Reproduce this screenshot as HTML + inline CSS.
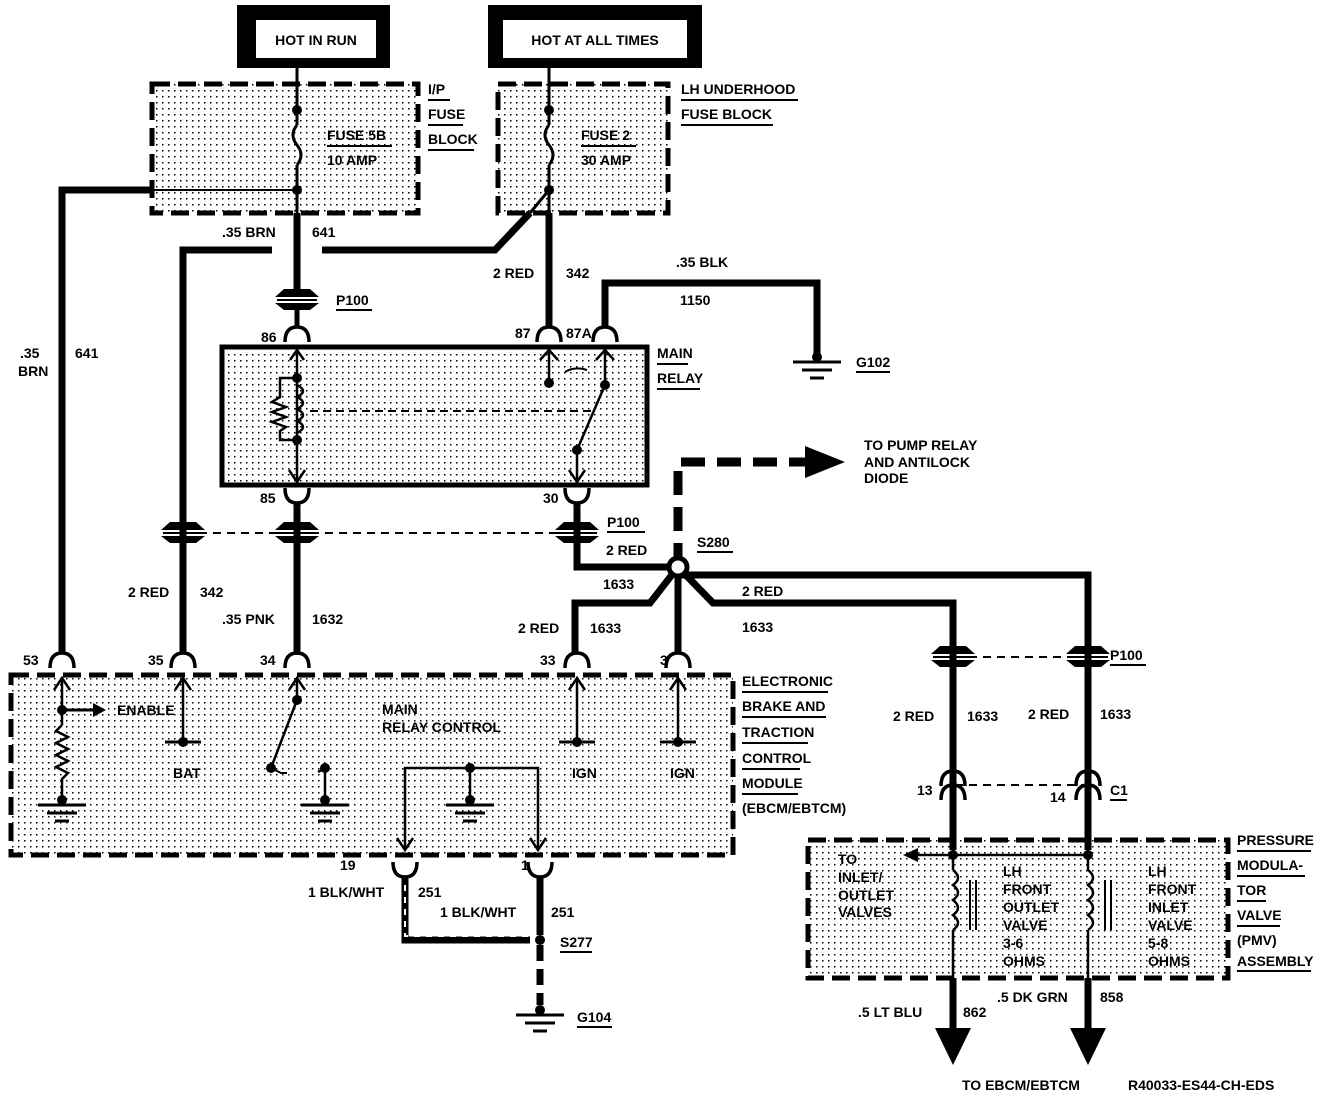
<!DOCTYPE html>
<html><head><meta charset="utf-8"><style>
html,body{margin:0;padding:0;background:#fff}
svg{display:block}
text{font-family:"Liberation Sans",sans-serif;font-weight:bold;font-size:14px;fill:#000}
</style></head><body>
<svg width="1344" height="1098" viewBox="0 0 1344 1098" xmlns="http://www.w3.org/2000/svg">
<defs>
<pattern id="d" width="6" height="6" patternUnits="userSpaceOnUse"><rect width="1.5" height="1.5" fill="#000"/></pattern>
<g id="p100"><path d="M-13,-11 L13,-11 L22,-3 L-22,-3Z" fill="#000"/><path d="M-22,3 L22,3 L13,10 L-13,10Z" fill="#000"/><line x1="-20" y1="0" x2="20" y2="0" stroke="#000" stroke-width="2"/></g>
<g id="cap"><path d="M-12,8 Q-12,-7 0,-7 Q12,-7 12,8" stroke="#000" stroke-width="3.5" fill="none"/></g>
<g id="cup"><path d="M-12,-8 Q-12,7 0,7 Q12,7 12,-8" stroke="#000" stroke-width="3.5" fill="none"/></g>
<g id="gnd"><line x1="-24" y1="0" x2="24" y2="0" stroke="#000" stroke-width="3"/><line x1="-15" y1="8" x2="15" y2="8" stroke="#000" stroke-width="3"/><line x1="-7" y1="16" x2="7" y2="16" stroke="#000" stroke-width="3"/></g>
</defs>

<rect x="237" y="5" width="153" height="63" fill="#000"/><rect x="256" y="20" width="120" height="38" fill="#fff"/>
<text x="316" y="45" text-anchor="middle" font-size="13">HOT IN RUN</text>
<rect x="488" y="5" width="214" height="63" fill="#000"/><rect x="503" y="20" width="184" height="38" fill="#fff"/>
<text x="595" y="45" text-anchor="middle" font-size="13">HOT AT ALL TIMES</text>

<rect x="152" y="84" width="266" height="129" fill="url(#d)" stroke="#000" stroke-width="5" stroke-dasharray="18,8"/>
<rect x="498" y="84" width="170" height="129" fill="url(#d)" stroke="#000" stroke-width="5" stroke-dasharray="18,8"/>
<text x="327" y="140">FUSE 5B</text><line x1="327" y1="146" x2="392" y2="146" stroke="#000" stroke-width="2"/><text x="327" y="165">10 AMP</text>
<text x="581" y="140">FUSE 2</text><line x1="581" y1="146" x2="636" y2="146" stroke="#000" stroke-width="2"/><text x="581" y="165">30 AMP</text>
<text x="428" y="94">I/P</text><line x1="428" y1="100" x2="450" y2="100" stroke="#000" stroke-width="2"/>
<text x="428" y="119">FUSE</text><line x1="428" y1="125" x2="463" y2="125" stroke="#000" stroke-width="2"/>
<text x="428" y="144">BLOCK</text><line x1="428" y1="150" x2="474" y2="150" stroke="#000" stroke-width="2"/>
<text x="681" y="94">LH UNDERHOOD</text><line x1="681" y1="100" x2="798" y2="100" stroke="#000" stroke-width="2"/>
<text x="681" y="119">FUSE BLOCK</text><line x1="681" y1="125" x2="773" y2="125" stroke="#000" stroke-width="2"/>

<g stroke="#000" fill="none">
<line x1="297" y1="68" x2="297" y2="125" stroke-width="3"/>
<path d="M297,125 q-8,10 0,20 q8,10 0,20" stroke-width="3"/>
<line x1="297" y1="165" x2="297" y2="213" stroke-width="3"/>
<line x1="297" y1="213" x2="297" y2="290" stroke-width="7"/>
<line x1="152" y1="190" x2="297" y2="190" stroke-width="2"/>
<path d="M152,190 H62 V652" stroke-width="7"/>
<line x1="549" y1="68" x2="549" y2="125" stroke-width="3"/>
<path d="M549,125 q-8,10 0,20 q8,10 0,20" stroke-width="3"/>
<line x1="549" y1="165" x2="549" y2="213" stroke-width="3"/>
<line x1="549" y1="190" x2="530" y2="213" stroke-width="3"/>
<path d="M530,213 L495,250 H322" stroke-width="7"/>
<path d="M272,250 H183 V652" stroke-width="7"/>
<line x1="549" y1="213" x2="549" y2="326" stroke-width="7"/>
<path d="M605,326 V283 H817 V355" stroke-width="7"/>
<line x1="297" y1="310" x2="297" y2="328" stroke-width="5"/>
<rect x="222" y="347" width="425" height="138" fill="url(#d)" stroke-width="5"/>
<line x1="297" y1="350" x2="297" y2="480" stroke-width="2.5"/>
<path d="M297,378 H280 V397 l-8,5 l14,5 l-14,5 l14,5 l-14,5 l14,5 l-6,4 V440 H297" stroke-width="2.5"/>
<path d="M297,385 q12,6 0,12 q12,6 0,12 q12,6 0,12 q12,6 0,12" stroke-width="2.5"/>
<line x1="310" y1="411" x2="592" y2="411" stroke-width="2" stroke-dasharray="8,5"/>
<line x1="549" y1="350" x2="549" y2="383" stroke-width="2.5"/>
<line x1="605" y1="350" x2="605" y2="385" stroke-width="2.5"/>
<line x1="605" y1="385" x2="577" y2="450" stroke-width="2.5"/>
<line x1="577" y1="450" x2="577" y2="482" stroke-width="2.5"/>
<path d="M565,372 q10,-6 22,-2" stroke-width="2"/>
<path d="M290,360 l7,-10 l7,10 M540,360 l9,-10 l9,10 M596,360 l9,-10 l9,10 M289,470 l8,12 l8,-12 M569,470 l8,12 l8,-12" stroke-width="2.5"/>
<line x1="297" y1="503" x2="297" y2="655" stroke-width="7"/>
<path d="M577,503 V567 H678" stroke-width="7"/>
<line x1="185" y1="533" x2="585" y2="533" stroke-width="2" stroke-dasharray="8,6"/>
<path d="M678,567 V462 H805" stroke-width="9" stroke-dasharray="24,12"/>
<path d="M678,567 L650,603 H575 V652" stroke-width="7"/>
<line x1="678" y1="567" x2="678" y2="652" stroke-width="7"/>
<path d="M678,567 L713,603 H953 V850" stroke-width="7"/>
<path d="M678,575 H1088 V850" stroke-width="7"/>
<line x1="955" y1="657" x2="1088" y2="657" stroke-width="2" stroke-dasharray="8,6"/>
<line x1="955" y1="785" x2="1088" y2="785" stroke-width="2" stroke-dasharray="8,6"/>
<rect x="11" y="675" width="722" height="180" fill="url(#d)" stroke-width="5" stroke-dasharray="18,8"/>
<line x1="62" y1="678" x2="62" y2="725" stroke-width="2.5"/>
<path d="M62,725 l-6,6 l12,6 l-12,6 l12,6 l-12,6 l12,6 l-12,6 l12,6 l-6,6 V800" stroke-width="2.5"/>
<line x1="62" y1="710" x2="95" y2="710" stroke-width="3"/>
<line x1="183" y1="678" x2="183" y2="742" stroke-width="2.5"/><line x1="165" y1="742" x2="201" y2="742" stroke-width="3"/>
<line x1="297" y1="678" x2="297" y2="700" stroke-width="2.5"/><line x1="297" y1="700" x2="271" y2="768" stroke-width="2.5"/>
<path d="M271,768 l10,5 h6" stroke-width="2"/>
<path d="M325,768 V800 M318,772 l7,-4" stroke-width="2.5"/>
<line x1="577" y1="678" x2="577" y2="742" stroke-width="2.5"/><line x1="559" y1="742" x2="595" y2="742" stroke-width="3"/>
<line x1="678" y1="678" x2="678" y2="742" stroke-width="2.5"/><line x1="660" y1="742" x2="696" y2="742" stroke-width="3"/>
<path d="M405,850 V768 H538 V850" stroke-width="2.5"/>
<line x1="470" y1="768" x2="470" y2="800" stroke-width="2.5"/>
<path d="M54,690 l8,-12 l8,12 M175,690 l8,-12 l8,12 M289,690 l8,-12 l8,12 M569,690 l8,-12 l8,12 M670,690 l8,-12 l8,12 M397,838 l8,12 l8,-12 M530,838 l8,12 l8,-12" stroke-width="2.5"/>
<path d="M405,878 V940 H530" stroke-width="7"/>
<path d="M405,885 V936 H528" stroke="#fff" stroke-width="2" stroke-dasharray="6,6"/>
<line x1="540" y1="878" x2="540" y2="935" stroke-width="7"/>
<line x1="540" y1="945" x2="540" y2="1005" stroke-width="7" stroke-dasharray="16,8"/>
<rect x="808" y="840" width="420" height="138" fill="url(#d)" stroke-width="5" stroke-dasharray="18,8"/>
<line x1="915" y1="855" x2="1088" y2="855" stroke-width="2.5"/>
<line x1="953" y1="850" x2="953" y2="870" stroke-width="2.5"/>
<path d="M953,870 q10,8 0,15 q10,8 0,15 q10,8 0,15 q10,8 0,15" stroke-width="2.5"/>
<line x1="953" y1="930" x2="953" y2="1030" stroke-width="2.5"/>
<line x1="1088" y1="850" x2="1088" y2="870" stroke-width="2.5"/>
<path d="M1088,870 q10,8 0,15 q10,8 0,15 q10,8 0,15 q10,8 0,15" stroke-width="2.5"/>
<line x1="1088" y1="930" x2="1088" y2="1030" stroke-width="2.5"/>
<path d="M970,880 V930 M976,880 V930 M1105,880 V930 M1111,880 V930" stroke-width="2"/>
<line x1="953" y1="978" x2="953" y2="1030" stroke-width="7"/>
<line x1="1088" y1="978" x2="1088" y2="1030" stroke-width="7"/>
</g>
<path d="M805,446 L845,462 L805,478Z" fill="#000"/>
<path d="M93,703 L106,710 L93,717Z" fill="#000"/>
<path d="M903,855 L918,848 L918,862Z" fill="#000"/>
<path d="M935,1028 L971,1028 L953,1065Z" fill="#000"/>
<path d="M1070,1028 L1106,1028 L1088,1065Z" fill="#000"/>
<g fill="#000">
<circle cx="297" cy="110" r="5"/><circle cx="297" cy="190" r="5"/>
<circle cx="549" cy="110" r="5"/><circle cx="549" cy="190" r="5"/>
<circle cx="297" cy="378" r="5"/><circle cx="297" cy="440" r="5"/>
<circle cx="549" cy="383" r="5"/><circle cx="605" cy="385" r="5"/><circle cx="577" cy="450" r="5"/>
<circle cx="62" cy="710" r="5"/><circle cx="62" cy="800" r="5"/><circle cx="183" cy="742" r="5"/><circle cx="297" cy="700" r="5"/>
<circle cx="271" cy="768" r="5"/><circle cx="325" cy="768" r="5"/><circle cx="325" cy="800" r="5"/>
<circle cx="470" cy="768" r="5"/><circle cx="470" cy="800" r="5"/>
<circle cx="577" cy="742" r="5"/><circle cx="678" cy="742" r="5"/>
<circle cx="953" cy="855" r="5"/><circle cx="1088" cy="855" r="5"/>
<circle cx="540" cy="940" r="5"/><circle cx="540" cy="1010" r="5"/><circle cx="817" cy="357" r="5"/>
</g>
<circle cx="678" cy="567" r="9" fill="#fff" stroke="#000" stroke-width="5"/>
<use href="#gnd" x="817" y="362"/><use href="#gnd" x="62" y="805"/><use href="#gnd" x="325" y="805"/><use href="#gnd" x="470" y="805"/><use href="#gnd" x="540" y="1015"/>
<use href="#p100" x="297" y="300"/><use href="#p100" x="183" y="533"/><use href="#p100" x="297" y="533"/><use href="#p100" x="577" y="533"/>
<use href="#p100" x="953" y="657"/><use href="#p100" x="1088" y="657"/>
<use href="#cap" x="297" y="334"/><use href="#cap" x="549" y="334"/><use href="#cap" x="605" y="334"/>
<use href="#cup" x="297" y="496"/><use href="#cup" x="577" y="496"/>
<use href="#cap" x="62" y="660"/><use href="#cap" x="183" y="660"/><use href="#cap" x="297" y="660"/><use href="#cap" x="577" y="660"/><use href="#cap" x="678" y="660"/>
<use href="#cup" x="405" y="870"/><use href="#cup" x="540" y="870"/>
<use href="#cap" x="953" y="778"/><use href="#cap" x="953" y="792"/><use href="#cap" x="1088" y="778"/><use href="#cap" x="1088" y="792"/>
<text x="222" y="237">.35 BRN</text><text x="312" y="237">641</text>
<text x="336" y="305">P100</text><line x1="336" y1="310" x2="372" y2="310" stroke="#000" stroke-width="2"/>
<text x="493" y="278">2 RED</text><text x="566" y="278">342</text>
<text x="676" y="267">.35 BLK</text><text x="680" y="305">1150</text>
<text x="261" y="342">86</text><text x="515" y="338">87</text><text x="566" y="338">87A</text>
<text x="657" y="358" font-size="13">MAIN</text><line x1="657" y1="364" x2="688" y2="364" stroke="#000" stroke-width="2"/>
<text x="657" y="383" font-size="13">RELAY</text><line x1="657" y1="389" x2="700" y2="389" stroke="#000" stroke-width="2"/>
<text x="856" y="367">G102</text><line x1="856" y1="372" x2="890" y2="372" stroke="#000" stroke-width="2"/>
<text x="20" y="358">.35</text><text x="18" y="376">BRN</text><text x="75" y="358">641</text>
<text x="260" y="503">85</text><text x="543" y="503">30</text>
<text x="607" y="527">P100</text><line x1="607" y1="532" x2="645" y2="532" stroke="#000" stroke-width="2"/>
<text x="606" y="555">2 RED</text><text x="697" y="547">S280</text><line x1="697" y1="552" x2="733" y2="552" stroke="#000" stroke-width="2"/>
<text x="864" y="450" font-size="13">TO PUMP RELAY</text><text x="864" y="467" font-size="13">AND ANTILOCK</text><text x="864" y="483" font-size="13">DIODE</text>
<text x="128" y="597">2 RED</text><text x="200" y="597">342</text>
<text x="222" y="624">.35 PNK</text><text x="312" y="624">1632</text>
<text x="603" y="589">1633</text><text x="518" y="633">2 RED</text><text x="590" y="633">1633</text>
<text x="742" y="596">2 RED</text><text x="742" y="632">1633</text>
<text x="23" y="665">53</text><text x="148" y="665">35</text><text x="260" y="665">34</text><text x="540" y="665">33</text><text x="660" y="665">3</text>
<text x="117" y="715" font-size="13">ENABLE</text>
<text x="382" y="714" font-size="13">MAIN</text><text x="382" y="732" font-size="13">RELAY CONTROL</text>
<text x="173" y="778" font-size="13">BAT</text><text x="572" y="778" font-size="13">IGN</text><text x="670" y="778" font-size="13">IGN</text>
<text x="742" y="686" font-size="13">ELECTRONIC</text><line x1="742" y1="692" x2="828" y2="692" stroke="#000" stroke-width="2"/>
<text x="742" y="711" font-size="13">BRAKE AND</text><line x1="742" y1="717" x2="826" y2="717" stroke="#000" stroke-width="2"/>
<text x="742" y="737" font-size="13">TRACTION</text><line x1="742" y1="743" x2="808" y2="743" stroke="#000" stroke-width="2"/>
<text x="742" y="763" font-size="13">CONTROL</text><line x1="742" y1="769" x2="800" y2="769" stroke="#000" stroke-width="2"/>
<text x="742" y="788" font-size="13">MODULE</text><line x1="742" y1="794" x2="798" y2="794" stroke="#000" stroke-width="2"/>
<text x="742" y="813" font-size="13">(EBCM/EBTCM)</text>
<text x="1110" y="660">P100</text><line x1="1110" y1="665" x2="1146" y2="665" stroke="#000" stroke-width="2"/>
<text x="893" y="721">2 RED</text><text x="967" y="721">1633</text><text x="1028" y="719">2 RED</text><text x="1100" y="719">1633</text>
<text x="917" y="795">13</text><text x="1050" y="802">14</text>
<text x="1110" y="795">C1</text><line x1="1110" y1="800" x2="1127" y2="800" stroke="#000" stroke-width="2"/>
<text x="340" y="870">19</text><text x="521" y="870">1</text>
<text x="308" y="897">1 BLK/WHT</text><text x="418" y="897">251</text>
<text x="440" y="917">1 BLK/WHT</text><text x="551" y="917">251</text>
<text x="560" y="947">S277</text><line x1="560" y1="952" x2="592" y2="952" stroke="#000" stroke-width="2"/>
<text x="577" y="1022">G104</text><line x1="577" y1="1027" x2="612" y2="1027" stroke="#000" stroke-width="2"/>
<text x="838" y="864" font-size="13">TO</text><text x="838" y="882" font-size="13">INLET/</text><text x="838" y="900" font-size="13">OUTLET</text><text x="838" y="917" font-size="13">VALVES</text>
<text x="1003" y="876" font-size="13">LH</text><text x="1003" y="894" font-size="13">FRONT</text><text x="1003" y="912" font-size="13">OUTLET</text><text x="1003" y="930" font-size="13">VALVE</text><text x="1003" y="948" font-size="13">3-6</text><text x="1003" y="966" font-size="13">OHMS</text>
<text x="1148" y="876" font-size="13">LH</text><text x="1148" y="894" font-size="13">FRONT</text><text x="1148" y="912" font-size="13">INLET</text><text x="1148" y="930" font-size="13">VALVE</text><text x="1148" y="948" font-size="13">5-8</text><text x="1148" y="966" font-size="13">OHMS</text>
<text x="1237" y="845" font-size="13">PRESSURE</text><line x1="1237" y1="851" x2="1311" y2="851" stroke="#000" stroke-width="2"/>
<text x="1237" y="870" font-size="13">MODULA-</text><line x1="1237" y1="876" x2="1305" y2="876" stroke="#000" stroke-width="2"/>
<text x="1237" y="895" font-size="13">TOR</text><line x1="1237" y1="901" x2="1266" y2="901" stroke="#000" stroke-width="2"/>
<text x="1237" y="920" font-size="13">VALVE</text><line x1="1237" y1="926" x2="1280" y2="926" stroke="#000" stroke-width="2"/>
<text x="1237" y="945" font-size="13">(PMV)</text>
<text x="1237" y="966" font-size="13">ASSEMBLY</text><line x1="1237" y1="971" x2="1311" y2="971" stroke="#000" stroke-width="2"/>
<text x="858" y="1017">.5 LT BLU</text><text x="963" y="1017">862</text>
<text x="997" y="1002">.5 DK GRN</text><text x="1100" y="1002">858</text>
<text x="962" y="1090" font-size="13">TO EBCM/EBTCM</text><text x="1128" y="1090" font-size="13">R40033-ES44-CH-EDS</text>
</svg>
</body></html>
